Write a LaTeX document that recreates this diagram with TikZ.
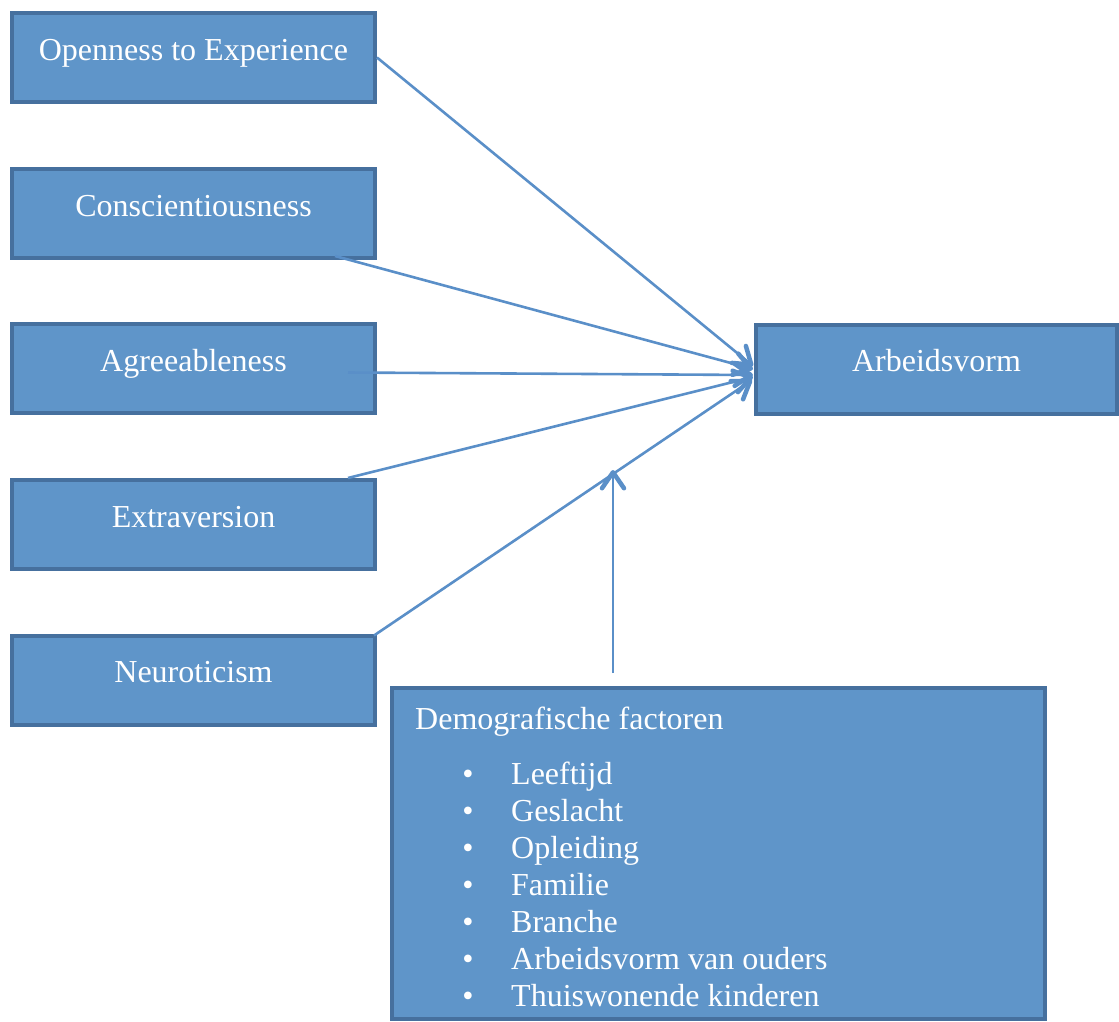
\documentclass[tikz,border=0pt]{standalone}
\usepackage{fontspec}
\setmainfont{Liberation Serif}
\usepackage{xcolor}
\usetikzlibrary{arrows.meta,calc}

\definecolor{boxfill}{RGB}{95,149,201}
\definecolor{boxline}{RGB}{70,112,158}
\definecolor{arrowline}{RGB}{90,143,200}

\begin{document}
\begin{tikzpicture}[x=1pt, y=-1pt,
    box/.style={draw=boxline, line width=4pt, fill=boxfill, text=white,
        minimum width=363pt, minimum height=89pt,
        text height=22pt, text depth=17pt,
        font=\fontsize{32}{37}\selectfont},
    txt/.style={text=white, inner sep=0pt, font=\fontsize{32}{37}\selectfont},
    link/.style={draw=arrowline, line width=2.6pt,
        -{Straight Barb[length=16pt, width=22pt, line width=4.5pt, round]}}]
    \useasboundingbox (0,0) rectangle (1119,1021);

    % Big Five
    \node[box] (open) at (193.5,57.5) {Openness to Experience};
    \node[box] (consc) at (193.5,213.5) {Conscientiousness};
    \node[box] (agree) at (193.5,368.5) {Agreeableness};
    \node[box] (extra) at (193.5,524.5) {Extraversion};
    \node[box] (neuro) at (193.5,680) {Neuroticism};

    % Outcome
    \node[box, minimum width=361pt] (arbeid) at (936.5,369) {Arbeidsvorm};

    % Demographics
    \node[box, minimum width=653pt, minimum height=331pt] (demo) at (718.5,853.5) {};
    \node[txt, anchor=base west] (demotitle) at (415,729) {Demografische factoren};
    \foreach \entry [count=\i from 0] in {Leeftijd, Geslacht, Opleiding, Familie,
        Branche, Arbeidsvorm van ouders, Thuiswonende kinderen} {
        \node[txt, anchor=base] (bul\i) at (468,784+37*\i) {\textbullet};
        \node[txt, anchor=base west] (item\i) at (511,784+37*\i) {\entry};
    }

    % Arrows to outcome
    \draw[link] (open.east) -- ($(arbeid.west)+(-1,-3)$);
    \draw[link] ($(consc.south east)+(-42,-4)$) -- ($(arbeid.west)+(-1,0)$);
    \draw[link] ($(agree.east)+(-29,4)$) -- ($(arbeid.west)+(-1,6)$);
    \draw[link] ($(extra.north east)+(-29,0)$) -- ($(arbeid.west)+(-1,8)$);
    \draw[link] ($(neuro.north east)+(-3,2)$) -- ($(arbeid.west)+(-2,11)$);

    % Arrow from demographics
    \coordinate (demostart) at (613,673);
    \coordinate (demotip) at (613,470);
    \draw[link] (demostart) -- (demotip);
\end{tikzpicture}
\end{document}
